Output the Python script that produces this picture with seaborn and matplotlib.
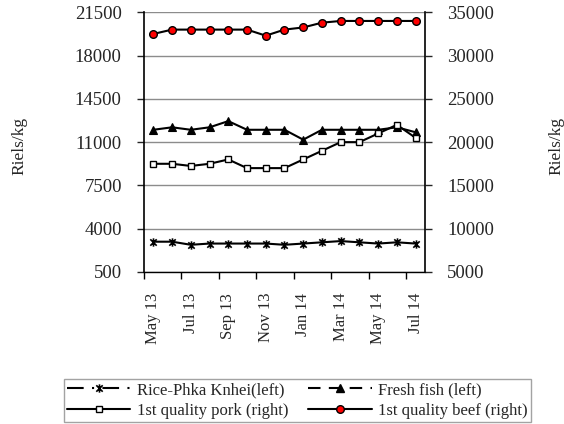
import pandas as pd
import matplotlib.pyplot as plt
import seaborn as sns
from matplotlib.path import Path
from matplotlib.lines import Line2D

# Monthly prices, May 2013 - Jul 2014 (Riels/kg)
months = ["May 13", "Jun 13", "Jul 13", "Aug 13", "Sep 13", "Oct 13", "Nov 13", "Dec 13",
          "Jan 14", "Feb 14", "Mar 14", "Apr 14", "May 14", "Jun 14", "Jul 14"]
rice = [2950, 2950, 2700, 2800, 2800, 2800, 2800, 2700, 2800, 2900, 3000, 2900, 2800, 2900, 2800]
fish = [12000, 12200, 12000, 12200, 12700, 12000, 12000, 12000, 11200, 12000, 12000, 12000, 12000, 12200, 11800]
pork = [17500, 17500, 17250, 17500, 18000, 17000, 17000, 17000, 18000, 19000, 20000, 20000, 21000, 22000, 20500]
beef = [32500, 33000, 33000, 33000, 33000, 33000, 32300, 33000, 33250, 33800, 34000, 34000, 34000, 34000, 34000]

left_ticks = [500, 4000, 7500, 11000, 14500, 18000, 21500]
right_ticks = [5000, 10000, 15000, 20000, 25000, 30000, 35000]
labels = ["Rice-Phka Knhei(left)", "1st quality pork (right)",
          "Fresh fish (left)", "1st quality beef (right)"]

sns.set_style("ticks")
plt.rcParams["font.family"] = ["Liberation Serif", "DejaVu Serif"]

df = pd.DataFrame({"pos": range(len(months)), "rice": rice, "fish": fish,
                   "pork": pork, "beef": beef})

# asterisk marker like the spreadsheet one
ast = Path([(-1, -1), (1, 1), (-1, 1), (1, -1), (0, -1.3), (0, 1.3)],
           [Path.MOVETO, Path.LINETO] * 3)

fig = plt.figure(figsize=(5.64, 4.24), dpi=100)
ax = fig.add_axes([0.2553, 0.3585, 0.4982, 0.6125])
ax2 = ax.twinx()

sns.lineplot(data=df, x="pos", y="rice", ax=ax, color="black", lw=1.5, marker=ast,
             markersize=6, markerfacecolor="black", markeredgecolor="black",
             markeredgewidth=1.2, legend=False)
sns.lineplot(data=df, x="pos", y="fish", ax=ax, color="black", lw=1.5, marker="^",
             markersize=6, markerfacecolor="black", markeredgecolor="black",
             markeredgewidth=0.8, legend=False)
sns.lineplot(data=df, x="pos", y="pork", ax=ax2, color="black", lw=1.5, marker="s",
             markersize=5, markerfacecolor="white", markeredgecolor="black",
             markeredgewidth=1.0, legend=False)
sns.lineplot(data=df, x="pos", y="beef", ax=ax2, color="black", lw=1.5, marker="o",
             markersize=5.5, markerfacecolor="red", markeredgecolor="black",
             markeredgewidth=1.0, legend=False)

# axes limits and ticks
ax.set_xlim(-0.5, len(months) - 0.5)
ax.set_ylim(500, 21500)
ax.set_yticks(left_ticks)
ax2.set_ylim(5000, 35000)
ax2.set_yticks(right_ticks)

ax.set_xticks([i - 0.5 for i in range(0, 16, 2)])
ax.set_xticklabels([])
ax.set_xticks(range(0, 15, 2), minor=True)
ax.set_xticklabels(months[::2], minor=True, rotation=90, fontsize=12)
ax.tick_params(axis="x", which="major", direction="out", length=5, width=1, color="black")
ax.tick_params(axis="x", which="minor", length=0, pad=15)
ax.tick_params(axis="y", direction="out", length=5, width=1, labelsize=13.5, pad=11)
ax2.tick_params(axis="y", direction="out", length=5, width=1, labelsize=13.5, pad=11)

for a in (ax, ax2):
    a.set_xlabel("")
    a.set_ylabel("")
    a.spines["top"].set_visible(False)

ax.spines["right"].set_visible(False)
ax2.spines["left"].set_visible(False)
ax2.spines["bottom"].set_visible(False)
ax.spines["left"].set_color("black")
ax.spines["bottom"].set_color("black")
ax2.spines["right"].set_color("black")
ax.spines["left"].set_linewidth(1.2)
ax2.spines["right"].set_linewidth(1.2)
ax.spines["bottom"].set_linewidth(1.0)

ax.grid(axis="y", color="#8c8c8c", lw=1)
ax.set_axisbelow(True)

fig.text(19 / 564, 1 - 146 / 424, "Riels/kg", rotation=90, ha="center", va="center", fontsize=12.5)
fig.text(556 / 564, 1 - 146 / 424, "Riels/kg", rotation=90, ha="center", va="center", fontsize=12.5)

# legend with the dashed styles from the original
handles = [
    Line2D([], [], color="black", lw=1.5, linestyle=(0, (8, 4, 1, 4)), marker=ast,
           markersize=6, markerfacecolor="black", markeredgecolor="black", markeredgewidth=1.2),
    Line2D([], [], color="black", lw=1.5, marker="s", markersize=5,
           markerfacecolor="white", markeredgecolor="black"),
    Line2D([], [], color="black", lw=1.5, linestyle=(0, (6, 4)), marker="^",
           markersize=6, markerfacecolor="black", markeredgecolor="black"),
    Line2D([], [], color="black", lw=1.5, marker="o", markersize=5.5,
           markerfacecolor="red", markeredgecolor="black"),
]
leg = fig.legend(handles=handles, labels=labels, ncol=2, loc="center",
                 bbox_to_anchor=(0.5275, 0.0554), frameon=True, fancybox=False,
                 edgecolor="#8c8c8c", fontsize=12, handlelength=3.8, columnspacing=1.2,
                 handletextpad=0.4, borderpad=0.2, labelspacing=0.3)
leg.get_frame().set_linewidth(1.0)

plt.savefig("out.png", dpi=100)
